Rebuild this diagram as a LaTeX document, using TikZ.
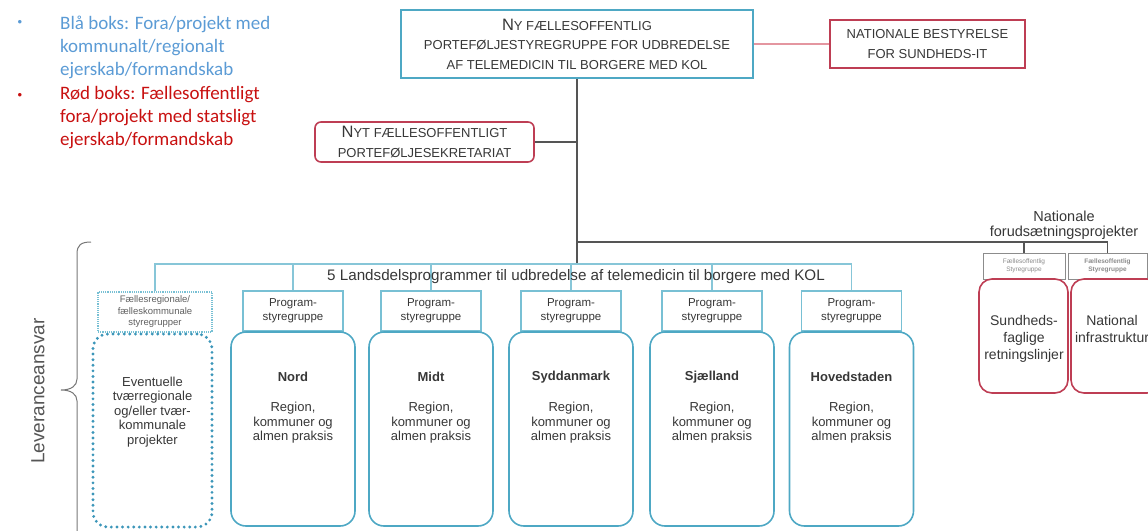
\documentclass[tikz,border=0pt]{standalone}
\usepackage{fontspec}
\setmainfont{Liberation Sans}
\newfontfamily\legfont{Carlito}
\definecolor{boxblue}{RGB}{78,168,196}
\definecolor{hdrblue}{RGB}{120,192,212}
\definecolor{lineblue}{RGB}{135,198,216}
\definecolor{dotblue}{RGB}{60,150,185}
\definecolor{boxred}{RGB}{190,62,84}
\definecolor{pinkline}{RGB}{228,150,160}
\definecolor{grayline}{RGB}{85,85,85}
\definecolor{bracegray}{RGB}{120,120,120}
\definecolor{hdrgray}{RGB}{140,140,140}
\definecolor{txt}{RGB}{55,55,55}
\definecolor{legblue}{RGB}{91,155,213}
\definecolor{legred}{RGB}{200,16,16}
\newcommand{\BigCap}[1]{{\fontsize{16.5}{16.5}\selectfont #1}}
\begin{document}
\begin{tikzpicture}[x=1pt,y=-1pt,
  tbox/.style={draw=boxblue, line width=1.8pt, minimum width=352pt, minimum height=68pt, align=center, text=txt, font=\fontsize{13}{19.5}\selectfont, inner sep=0pt},
  rbox/.style={draw=boxred, line width=1.6pt, align=center, text=txt, font=\fontsize{13}{20}\selectfont, inner sep=0pt},
  hdr/.style={draw=hdrblue, line width=1.2pt, minimum width=100pt, minimum height=40pt, align=center, text=txt, font=\fontsize{11.5}{14}\selectfont, inner sep=0pt},
  big/.style={draw=boxblue, line width=1.6pt, rounded corners=15pt, minimum width=124pt, minimum height=194pt, inner sep=0pt},
  btitle/.style={text=txt, font=\bfseries\fontsize{13}{15}\selectfont, inner sep=0pt},
  btext/.style={text=txt, align=center, font=\fontsize{13}{14.5}\selectfont, inner sep=0pt},
  rhdr/.style={draw=hdrgray, line width=1pt, minimum height=26pt, align=center, text=hdrgray, font=\fontsize{6.5}{8}\selectfont, inner sep=0pt},
  rbig/.style={draw=boxred, line width=1.6pt, rounded corners=13pt, minimum width=89pt, minimum height=114pt, inner sep=0pt},
  gline/.style={draw=grayline, line width=1.3pt},
  bline/.style={draw=lineblue, line width=1.3pt},
  leg/.style={anchor=west, align=left, inner sep=0pt, font={\legfont\fontsize{19}{23}\selectfont}}
]
\useasboundingbox (0,0) rectangle (1148,530);
\clip (0,0) rectangle (1148,530);

% legend
\node[text=legblue, font=\fontsize{13}{13}\selectfont, inner sep=0pt] (lbul) at (20,23) {•};
\node[leg, text=legblue] (lbt) at (60,47) {Blå boks: Fora/projekt med\\kommunalt/regionalt\\ejerskab/formandskab};
\node[text=legred, font=\fontsize{13}{13}\selectfont, inner sep=0pt] (rbul) at (20,96) {•};
\node[leg, text=legred] (rbt) at (60,118) {Rød boks: Fællesoffentligt\\fora/projekt med statsligt\\ejerskab/formandskab};

% top boxes
\node[tbox] (top) at (577,44) {\BigCap{N}Y FÆLLESOFFENTLIG\\PORTEFØLJESTYREGRUPPE FOR UDBREDELSE\\AF TELEMEDICIN TIL BORGERE MED KOL};
\node[rbox, minimum width=195pt, minimum height=48pt] (nat) at (927.5,44) {NATIONALE BESTYRELSE\\FOR SUNDHEDS-IT};
\node[rbox, rounded corners=6pt, minimum width=219pt, minimum height=40pt, font=\fontsize{13}{19.5}\selectfont] (sek) at (424.5,142) {\BigCap{N}YT FÆLLESOFFENTLIGT\\PORTEFØLJESEKRETARIAT};

\coordinate (bus) at (577,264);
\coordinate (jn) at (577,242);
\coordinate (sj) at (577,142);
\draw[pinkline, line width=1.3pt] (top.east) -- (nat.west);
\draw[gline] (top.south) -- (bus);
\draw[gline] (sek.east) -- (sj);

% right: national projects
\node[text=txt, align=center, font=\fontsize{14.5}{15.5}\selectfont, inner sep=0pt] (natp) at (1064,225) {Nationale\\forudsætningsprojekter};
\node[rhdr, minimum width=82pt] (r1h) at (1024,266) {Fællesoffentlig\\Styregruppe};
\node[rhdr, minimum width=79pt, font=\bfseries\fontsize{6.5}{8}\selectfont] (r2h) at (1107.5,266) {Fællesoffentlig\\Styregruppe};
\node[rbig] (r1) at (1023.5,336) {};
\node[rbig] (r2) at (1115.5,336) {};
\node[btext, font=\fontsize{14}{17}\selectfont] (r1t) at (1024,339) {Sundheds-\\faglige\\retningslinjer};
\node[btext, font=\fontsize{14}{17}\selectfont] (r2t) at (1112,329) {National\\infrastruktur};
\draw[gline] (jn) -- (jn -| r2h.north) -- (r2h.north);
\draw[gline] (r1h.north |- jn) -- (r1h.north);

% program headers and boxes
\node[hdr, draw=hdrblue, densely dotted, minimum width=114pt, font=\fontsize{9.5}{11.5}\selectfont, text=txt!80] (fh) at (155,312) {Fællesregionale/\\fælleskommunale\\styregrupper};
\node[draw=dotblue, line width=3.2pt, dash pattern=on 0pt off 5.6pt, line cap=round, rounded corners=15pt, minimum width=119pt, minimum height=193pt, inner sep=0pt] (fb) at (152.5,430.5) {};
\node[btext] (fbt) at (152.5,412) {Eventuelle\\tværregionale\\og/eller tvær-\\kommunale\\projekter};

\foreach \n/\x/\name in {nord/293/Nord, midt/431/Midt, syd/571/Syddanmark, sja/712/Sjælland, hov/851.5/Hovedstaden}{
  \node[hdr] (\n h) at (\x,311) {Program-\\styregruppe};
  \node[big] (\n) at (\x,429) {};
  \node[btitle] (\n t) at (\x,377) {\name};
  \node[btext] (\n b) at (\x,423) {Region,\\kommuner og\\almen praksis};
}

\draw[bline] (fh.north) -- (fh.north |- bus) -- (hovh.north |- bus) -- (hovh.north);
\foreach \n in {nordh, midth, sydh, sjah}{
  \draw[bline] (\n.north |- bus) -- (\n.north);
}
\node[text=txt, font=\fontsize{15.2}{17}\selectfont, inner sep=0pt] (lands) at (576,277) {5 Landsdelsprogrammer til udbredelse af telemedicin til borgere med KOL};

% brace and side label
\draw[bracegray, line width=1pt] (91,242) .. controls (81,242) and (77,245) .. (77,254) -- (77,379) .. controls (77,386) and (71,390) .. (61,390) .. controls (71,390) and (77,394) .. (77,401) -- (77,540);
\node[rotate=90, text=grayline, font=\fontsize{19}{19}\selectfont, inner sep=0pt] (lev) at (38,391) {Leveranceansvar};
\end{tikzpicture}
\end{document}
